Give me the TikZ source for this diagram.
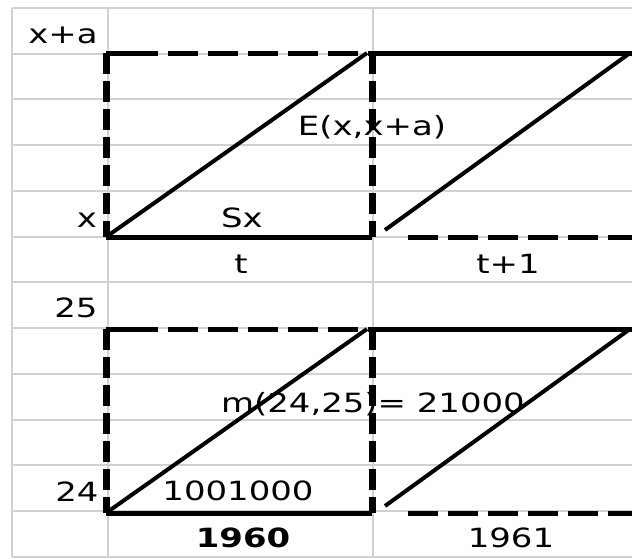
\documentclass[tikz,border=0pt]{standalone}
\usepackage{fontspec}
\setmainfont{DejaVu Sans}[FakeStretch=1.28]
\begin{document}
\begin{tikzpicture}[x=1pt,y=-1pt,
  gridline/.style={draw=black!18,line width=2pt},
  vdash/.style={line width=7pt,dash pattern=on 21pt off 7pt},
  hdash/.style={line width=5pt,dash pattern=on 30pt off 10pt},
  hsolid/.style={line width=5pt},
  diag/.style={line width=4pt},
  lbl/.style={inner sep=0pt,anchor=base,font=\fontsize{26.5}{30}\selectfont}]
\useasboundingbox (0,0) rectangle (632,558);
% spreadsheet grid
\foreach \k in {0,...,12}{
  \draw[gridline] (12,{8+45.73*\k}) -- (632,{8+45.73*\k});
}
\foreach \xx in {12,108,373}{
  \draw[gridline] (\xx,8) -- (\xx,557);
}
% ---------- upper panel ----------
\coordinate (uTL) at (106,53);
\coordinate (uT1) at (158,53);
\coordinate (uT2) at (168,53);
\coordinate (uTM) at (372,53);
\coordinate (uTR) at (632,53);
\coordinate (uBL) at (106,237);
\coordinate (uBM) at (372,237);
\coordinate (uB2) at (408,237);
\coordinate (uBR) at (632,237);
\coordinate (uD1) at (367,53);
\coordinate (uD2a) at (385,230);
\coordinate (uD2b) at (630,53);
\draw[hsolid] (uTL) -- (uT1);
\draw[hdash] (uT2) -- (uTM);
\draw[hsolid] (uTM) -- (uTR);
\draw[hsolid] (uBL) -- (uBM);
\draw[hdash] (uB2) -- (uBR);
\draw[vdash] (uTL) -- (uBL);
\draw[vdash] (uTM) -- (uBM);
\draw[diag] (uBL) -- (uD1);
\draw[diag] (uD2a) -- (uD2b);
% ---------- lower panel ----------
\coordinate (lTL) at (106,329);
\coordinate (lT1) at (158,329);
\coordinate (lT2) at (168,329);
\coordinate (lTM) at (372,329);
\coordinate (lTR) at (632,329);
\coordinate (lBL) at (106,513);
\coordinate (lBM) at (372,513);
\coordinate (lB2) at (408,513);
\coordinate (lBR) at (632,513);
\coordinate (lD1) at (367,329);
\coordinate (lD2a) at (385,506);
\coordinate (lD2b) at (630,329);
\draw[hsolid] (lTL) -- (lT1);
\draw[hdash] (lT2) -- (lTM);
\draw[hsolid] (lTM) -- (lTR);
\draw[hsolid] (lBL) -- (lBM);
\draw[hdash] (lB2) -- (lBR);
\draw[vdash] (lTL) -- (lBL);
\draw[vdash] (lTM) -- (lBM);
\draw[diag] (lBL) -- (lD1);
\draw[diag] (lD2a) -- (lD2b);
% ---------- labels ----------
\node[lbl] (xa) at (63,43) {x+a};
\node[lbl] (x) at (87,227) {x};
\node[lbl] (sx) at (242,227) {Sx};
\node[lbl] (E) at (372,135) {E(x,x+a)};
\node[lbl] (t) at (241,273) {t};
\node[lbl] (t1) at (508,273) {t+1};
\node[lbl] (n25) at (76,317) {25};
\node[lbl] (n24) at (77,501) {24};
\node[lbl] (pop) at (238,500) {1001000};
\node[lbl] (m) at (373,412) {m(24,25)= 21000};
\node[lbl,font=\fontsize{26.5}{30}\selectfont\bfseries] (y60) at (243,547) {1960};
\node[lbl] (y61) at (511,547) {1961};
\end{tikzpicture}
\end{document}
